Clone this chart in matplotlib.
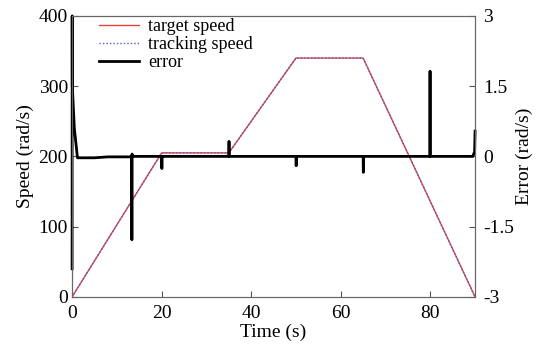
import numpy as np
import matplotlib.pyplot as plt

plt.rcParams['font.family'] = ['Liberation Serif', 'DejaVu Serif']

# speed profile (time s, speed rad/s)
t_speed = [0, 20, 35, 50, 65, 90]
target = [0, 205, 205, 340, 340, 0]
tracking = [0, 205, 205, 340, 340, 0]

# error (time s, rad/s)
t_err = [0, 0.02, 0.05, 0.5, 1.2, 5, 8, 13.3, 13.35, 13.4, 13.45, 20.0, 20.05, 20.1, 20.15,
         35.0, 35.05, 35.1, 35.15, 50.0, 50.05, 50.1, 50.15, 65.0, 65.05, 65.1, 65.15,
         79.9, 79.95, 80.0, 80.05, 89.5, 89.9, 90]
err = [-2.4, 3.0, 1.5, 0.6, -0.03, -0.03, -0.01, -0.01, -1.78, 0.05, 0.0, 0.0, -0.26, 0.0, 0.0,
       0.0, 0.32, 0.0, 0.0, 0.0, -0.2, 0.0, 0.0, 0.0, -0.34, 0.0, 0.0,
       0.0, 1.82, 0.0, 0.0, 0.0, 0.1, 0.54]

fig, ax = plt.subplots(figsize=(5.38, 3.46), dpi=100)
fig.subplots_adjust(left=0.134, right=0.883, top=0.954, bottom=0.142)

l1, = ax.plot(t_speed, target, color='#e8413c', lw=1.0, label='target speed')
l2, = ax.plot(t_speed, tracking, color='#4a5fd0', lw=1.0, ls=(0, (1, 1.5)), label='tracking speed')
ax.set_xlim(0, 90)
ax.set_ylim(0, 400)
ax.set_xticks([0, 20, 40, 60, 80])
ax.set_yticks([0, 100, 200, 300, 400])
ax.set_xlabel('Time (s)', fontsize=14, labelpad=1)
ax.set_ylabel('Speed (rad/s)', fontsize=14, labelpad=3)

ax2 = ax.twinx()
l3, = ax2.plot(t_err, err, color='black', lw=2.0, label='error', clip_on=False)
ax2.set_ylim(-3, 3)
ax2.set_yticks([-3, -1.5, 0, 1.5, 3])
ax2.set_yticklabels(['-3', '-1.5', '0', '1.5', '3'])
ax2.set_ylabel('Error (rad/s)', fontsize=14, labelpad=1)

for a in (ax, ax2):
    a.tick_params(direction='in', labelsize=14, length=4, color='#555555', pad=3)
    for s in a.spines.values():
        s.set_color('#666666')
        s.set_linewidth(0.8)
ax.tick_params(axis='x', pad=6)
ax2.tick_params(axis='y', pad=6)

ax2.legend([l1, l2, l3], ['target speed', 'tracking speed', 'error'], loc='upper left',
           frameon=False, fontsize=13, bbox_to_anchor=(0.04, 1.03), handlelength=2.2,
           handletextpad=0.5, labelspacing=0.05, borderaxespad=0.2)

fig.savefig('out.png')
